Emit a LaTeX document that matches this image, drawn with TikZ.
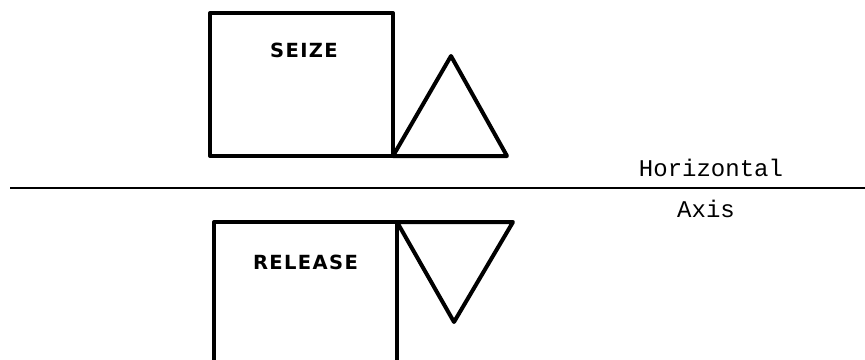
\documentclass[tikz,border=0pt]{standalone}
\usepackage{fontspec}
\newfontfamily\labelfont[LetterSpace=7]{DejaVu Sans Bold}
\newfontfamily\axisfont{Liberation Mono}
\begin{document}
\begin{tikzpicture}[x=1pt,y=-1pt,
  outline/.style={line width=4pt,line join=round,line cap=round},
  axisline/.style={line width=2.6pt},
  boxlabel/.style={font=\labelfont\fontsize{19.5}{20}\selectfont,anchor=base,inner sep=0pt},
  axislabel/.style={font=\axisfont\fontsize{24}{26}\selectfont,anchor=base,inner sep=0pt}]
\useasboundingbox (0,0) rectangle (865,359);
% top: SEIZE
\coordinate (s1) at (210,13);
\coordinate (s2) at (393,156);
\draw[outline] (s1) rectangle (s2);
\coordinate (ta) at (451,56);
\coordinate (tr) at (507,156);
\draw[outline] (s2) -- (ta) -- (tr) -- cycle;
\node[boxlabel] (seize) at (304,57) {SEIZE};
% axis
\coordinate (al) at (10,188);
\coordinate (ar) at (865,188);
\draw[axisline] (al) -- (ar);
\node[axislabel] (hor) at (711,176) {Horizontal};
\node[axislabel] (axis) at (706,217) {Axis};
% bottom: RELEASE
\coordinate (rb1) at (214,365);
\coordinate (r1) at (214,222);
\coordinate (r2) at (397,222);
\coordinate (rb2) at (397,365);
\draw[outline] (rb1) -- (r1) -- (r2) -- (rb2);
\coordinate (bt) at (513,222);
\coordinate (bb) at (454,322);
\draw[outline] (r2) -- (bt) -- (bb) -- cycle;
\node[boxlabel] (release) at (305.5,269) {RELEASE};
\end{tikzpicture}
\end{document}
